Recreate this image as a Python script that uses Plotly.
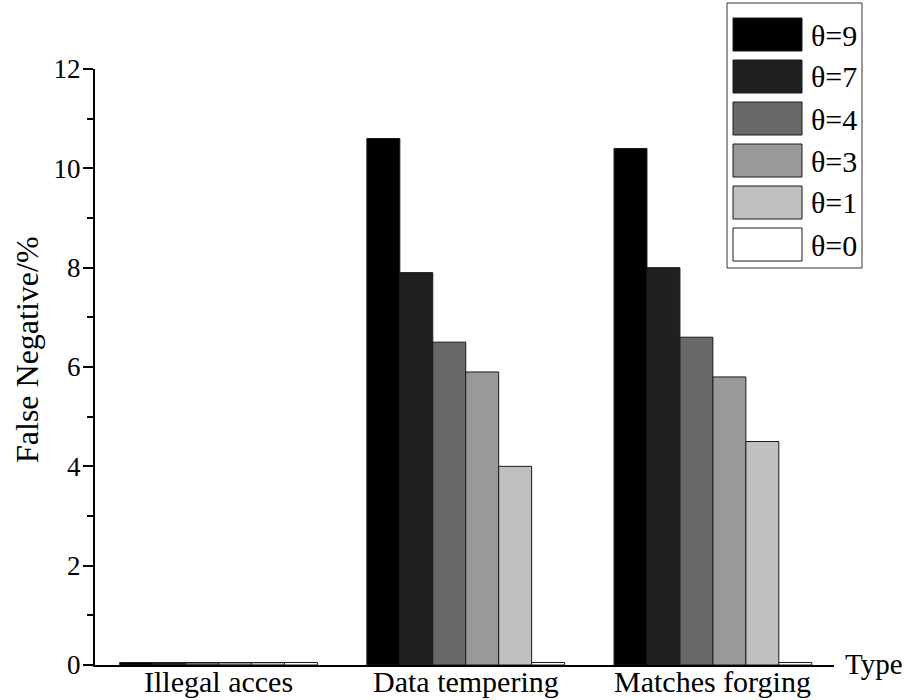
import plotly.graph_objects as go

# Attack types on the x axis
categories = ["Illegal acces", "Data tempering", "Matches forging"]

# False negative rate (%) for each threshold θ
series_names = ["θ=9", "θ=7", "θ=4", "θ=3", "θ=1", "θ=0"]
theta9 = [0.05, 10.6, 10.4]
theta7 = [0.05, 7.9, 8.0]
theta4 = [0.05, 6.5, 6.6]
theta3 = [0.05, 5.9, 5.8]
theta1 = [0.05, 4.0, 4.5]
theta0 = [0.05, 0.05, 0.05]
series_values = [theta9, theta7, theta4, theta3, theta1, theta0]

fills = ["#000000", "#202020", "#696969", "#999999", "#c0c0c0", "#ffffff"]

FONT = "Liberation Serif, Times New Roman, serif"
W, H = 905, 700
ML, MR, MT, MB = 95, 71, 69, 35
PW, PH = W - ML - MR, H - MT - MB

fig = go.Figure()
for name, vals, col in zip(series_names, series_values, fills):
    fig.add_trace(go.Bar(
        x=list(range(len(categories))), y=vals, name=name,
        marker=dict(color=col, line=dict(color="#1a1a1a", width=1)),
        showlegend=False,
    ))


def px_x(px):
    return (px - ML) / PW


def px_y(py):
    return (H - MB - py) / PH


# Legend box drawn with shapes so the swatches can be large
shapes = [dict(type="rect", xref="paper", yref="paper",
               x0=px_x(727), x1=px_x(862), y0=px_y(268), y1=px_y(3),
               line=dict(color="#333333", width=1), fillcolor="white", layer="above")]
annotations = []
for i, (name, col) in enumerate(zip(series_names, fills)):
    top = 18 + 42 * i
    shapes.append(dict(type="rect", xref="paper", yref="paper",
                       x0=px_x(733), x1=px_x(802), y0=px_y(top + 33), y1=px_y(top),
                       line=dict(color="#1a1a1a", width=1), fillcolor=col, layer="above"))
    annotations.append(dict(x=px_x(809), y=px_y(top + 17), xref="paper", yref="paper",
                            text=name, showarrow=False, xanchor="left", yanchor="middle",
                            font=dict(family=FONT, size=30, color="black")))

# Category labels sit tight under the axis line
for i, cat in enumerate(categories):
    annotations.append(dict(x=i, y=px_y(681), xref="x", yref="paper",
                            text=cat, showarrow=False, xanchor="center", yanchor="middle",
                            font=dict(family=FONT, size=30, color="black")))

# Axis titles
annotations.append(dict(x=px_x(843), y=px_y(664), xref="paper", yref="paper",
                        text="Type", showarrow=False, xanchor="left", yanchor="middle",
                        font=dict(family=FONT, size=29, color="black")))
annotations.append(dict(x=px_x(27), y=px_y(350), xref="paper", yref="paper",
                        text="False Negative/%", showarrow=False, textangle=-90,
                        xanchor="center", yanchor="middle",
                        font=dict(family=FONT, size=32, color="black")))

fig.update_layout(
    width=W, height=H,
    margin=dict(l=ML, r=MR, t=MT, b=MB, autoexpand=False),
    paper_bgcolor="white", plot_bgcolor="white",
    barmode="group", bargap=0.2, bargroupgap=0,
    shapes=shapes, annotations=annotations,
    font=dict(family=FONT, color="black"),
)
fig.update_xaxes(
    range=[-0.5, 2.49], tickmode="array", tickvals=list(range(len(categories))),
    showticklabels=False, ticks="", showgrid=False, zeroline=False,
    showline=True, linecolor="black", linewidth=2, automargin=False,
)
fig.update_yaxes(
    range=[0, 12], tickmode="array", tickvals=[0, 2, 4, 6, 8, 10, 12],
    ticks="outside", ticklen=10, tickwidth=1.5, tickcolor="black",
    minor=dict(tickvals=[1, 3, 5, 7, 9, 11], ticks="outside", ticklen=6,
               tickwidth=1.5, tickcolor="black"),
    showgrid=False, zeroline=False, showline=True, linecolor="black", linewidth=2,
    automargin=False,
    tickfont=dict(family=FONT, size=27, color="black"), ticklabelstandoff=-3,
)

fig.write_html("out.html")
